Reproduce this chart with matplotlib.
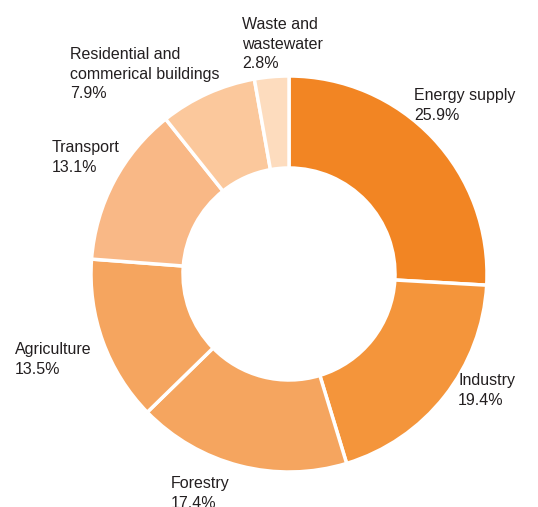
import matplotlib.pyplot as plt

# Emission shares by sector
sectors = ["Energy supply", "Industry", "Forestry", "Agriculture",
           "Transport", "Residential and\ncommerical buildings", "Waste and\nwastewater"]
shares = [25.9, 19.4, 17.4, 13.5, 13.1, 7.9, 2.8]
colors = ["#F28523", "#F4953B", "#F5A55F", "#F5A55F", "#F9B886", "#FBC89C", "#FDDCBE"]

# label anchor (left, top) in pixel coords
label_pos = [(414, 88), (458, 373), (171, 476), (15, 342),
             (52, 140), (70, 47), (242, 17)]

W, H = 538, 507
fig = plt.figure(figsize=(W / 100, H / 100), dpi=100)
ax = fig.add_axes([0, 0, 1, 1])

cx, cy, r = 289, H - 274, 198
ax.pie(shares, colors=colors, startangle=90, counterclock=False,
       center=(cx, cy), radius=r, frame=True,
       wedgeprops=dict(width=r - 106, edgecolor="white", linewidth=2.5))
ax.set_xlim(0, W)
ax.set_ylim(0, H)
ax.set_aspect("equal")
ax.axis("off")

for name, val, (x, y) in zip(sectors, shares, label_pos):
    ax.text(x, H - y, f"{name}\n{val}%", ha="left", va="top",
            fontsize=11.5, color="#231F20", linespacing=1.38,
            family=["Liberation Sans", "DejaVu Sans"])

fig.savefig("out.png", dpi=100)
